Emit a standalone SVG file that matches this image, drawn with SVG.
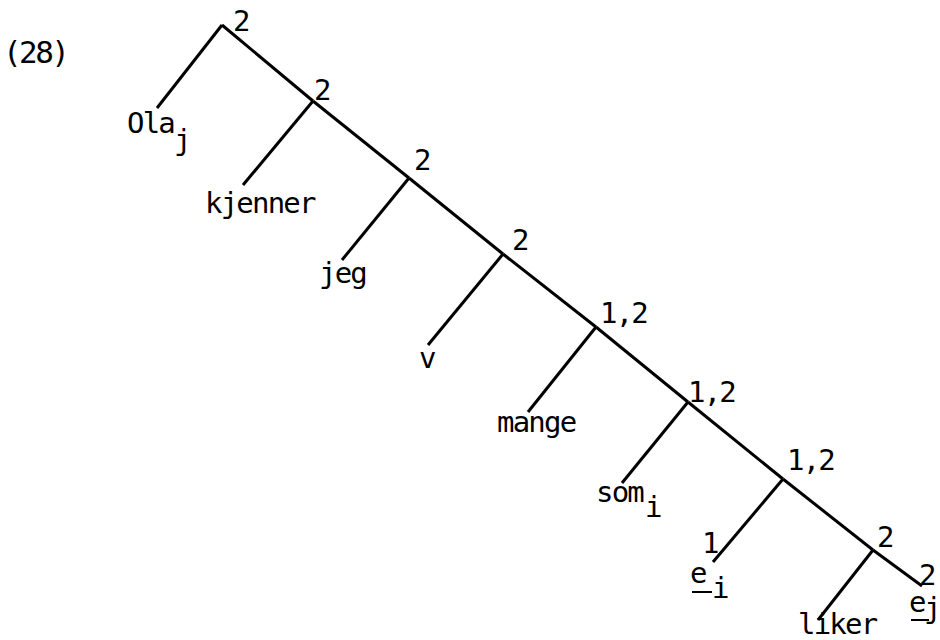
<svg xmlns="http://www.w3.org/2000/svg" width="940" height="640" viewBox="0 0 940 640">
<style>
text{font-family:"DejaVu Sans Mono","Liberation Mono",monospace;font-size:29px;letter-spacing:-1.8px;fill:#000}
.e line{stroke:#000;stroke-width:3;fill:none}
.u{stroke:#000;stroke-width:2}
</style>
<rect width="940" height="640" fill="#fff"/>
<text id="ex" x="3" y="63" style="font-size:31px;letter-spacing:-2.6px">(28)</text>
<g class="e" id="connectors">
<line x1="222" y1="25" x2="313" y2="101"/>
<line x1="313" y1="101" x2="409" y2="178"/>
<line x1="409" y1="178" x2="503" y2="254"/>
<line x1="503" y1="254" x2="596" y2="327"/>
<line x1="596" y1="327" x2="688" y2="402"/>
<line x1="688" y1="402" x2="783" y2="479"/>
<line x1="783" y1="479" x2="873" y2="550"/>
<line x1="873" y1="550" x2="922" y2="586"/>
<line x1="222" y1="25" x2="157" y2="108"/>
<line x1="313" y1="101" x2="243" y2="185"/>
<line x1="409" y1="178" x2="342" y2="260"/>
<line x1="503" y1="254" x2="428" y2="345"/>
<line x1="596" y1="327" x2="528" y2="412"/>
<line x1="688" y1="402" x2="622" y2="483"/>
<line x1="783" y1="479" x2="713" y2="562"/>
<line x1="873" y1="550" x2="818" y2="620"/>
</g>
<g id="n1"><text x="233" y="31">2</text></g>
<g id="n2"><text x="314" y="100">2</text></g>
<g id="n3"><text x="414" y="170">2</text></g>
<g id="n4"><text x="512" y="250">2</text></g>
<g id="n5"><text x="600" y="323">1,2</text></g>
<g id="n6"><text x="688" y="402">1,2</text></g>
<g id="n7"><text x="787" y="470">1,2</text></g>
<g id="n8"><text x="877" y="547">2</text></g>
<g id="leaf-ola"><text x="127" y="133">Ola</text><text x="174" y="150">j</text></g>
<g id="leaf-kjenner"><text x="205" y="213">kjenner</text></g>
<g id="leaf-jeg"><text x="319" y="283">jeg</text></g>
<g id="leaf-v"><text x="419" y="368">v</text></g>
<g id="leaf-mange"><text x="497" y="432">mange</text></g>
<g id="leaf-som"><text x="596" y="502">som</text><text x="645" y="517">i</text></g>
<g id="leaf-ei"><text x="702" y="553">1</text><text x="690" y="583">e</text><line class="u" x1="692" y1="592" x2="712" y2="592"/><text x="712" y="598">i</text></g>
<g id="leaf-liker"><text x="798" y="634">liker</text></g>
<g id="leaf-ej"><text x="919" y="585">2</text><text x="909" y="612">e</text><line class="u" x1="911" y1="620" x2="929" y2="620"/><text x="924" y="618">j</text></g>
</svg>
